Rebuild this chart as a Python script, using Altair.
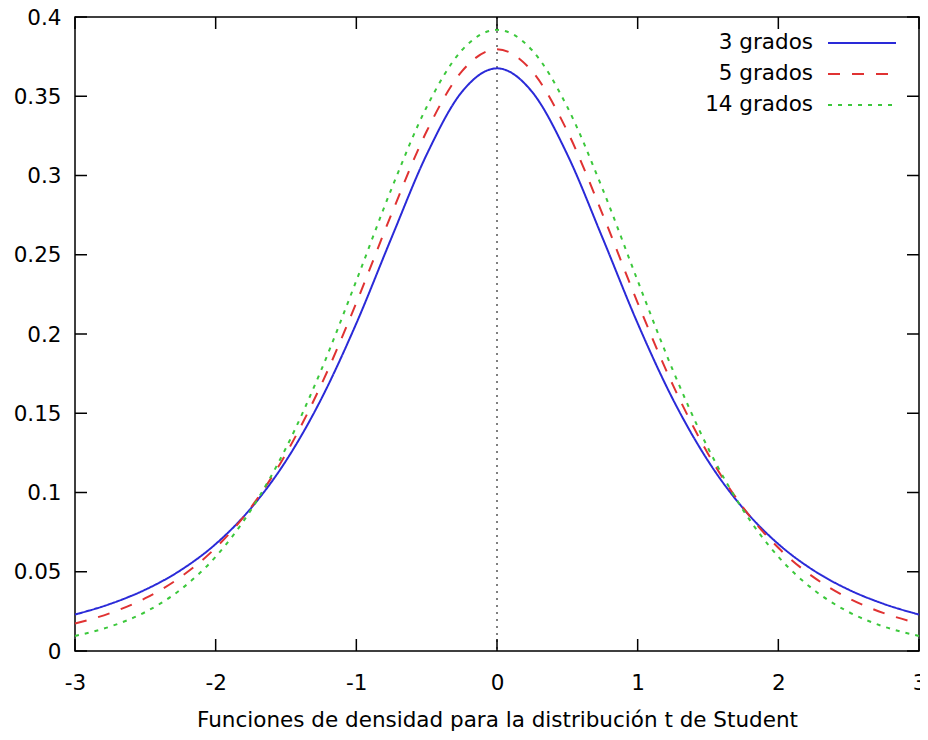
import altair as alt
import pandas as pd

# values
x_vals = [-3.0, -2.75, -2.5, -2.25, -2.0, -1.75, -1.5, -1.25, -1.0, -0.75, -0.5, -0.25, 0.0,
          0.25, 0.5, 0.75, 1.0, 1.25, 1.5, 1.75, 2.0, 2.25, 2.5, 2.75, 3.0]
g3 = [0.0230, 0.0297, 0.0387, 0.0509, 0.0675, 0.0900, 0.1200, 0.1589, 0.2067, 0.2607, 0.3132, 0.3527, 0.3676,
      0.3527, 0.3132, 0.2607, 0.2067, 0.1589, 0.1200, 0.0900, 0.0675, 0.0509, 0.0387, 0.0297, 0.0230]
g5 = [0.0173, 0.0239, 0.0333, 0.0466, 0.0651, 0.0905, 0.1245, 0.1679, 0.2197, 0.2757, 0.3279, 0.3657, 0.3796,
      0.3657, 0.3279, 0.2757, 0.2197, 0.1679, 0.1245, 0.0905, 0.0651, 0.0466, 0.0333, 0.0239, 0.0173]
g14 = [0.0095, 0.0154, 0.0246, 0.0387, 0.0595, 0.0889, 0.1281, 0.1772, 0.2336, 0.2916, 0.3432, 0.3790, 0.3919,
       0.3790, 0.3432, 0.2916, 0.2336, 0.1772, 0.1281, 0.0889, 0.0595, 0.0387, 0.0246, 0.0154, 0.0095]
series_names = ["3 grados", "5 grados", "14 grados"]
x_ticks = [-3, -2, -1, 0, 1, 2, 3]
y_ticks = [0, 0.05, 0.1, 0.15, 0.2, 0.25, 0.3, 0.35, 0.4]
x_title = "Funciones de densidad para la distribución t de Student"

colors = ["#2a2ad8", "#e03232", "#3cc83c"]
dashes = [[1, 0], [12, 12], [4, 6]]

W, H = 844, 634
FONT = "DejaVu Sans"
FS = 21.5
TICK = 12

rows = []
for name, ys in zip(series_names, [g3, g5, g14]):
    for xv, yv in zip(x_vals, ys):
        rows.append({"x": xv, "y": yv, "serie": name})
data = pd.DataFrame(rows)

xscale = alt.Scale(domain=[-3, 3], nice=False, zero=False)
yscale = alt.Scale(domain=[0, 0.4], nice=False)
xaxis = alt.Axis(values=x_ticks, labelExpr="'' + datum.value", title=x_title, grid=False, domain=False,
                 ticks=False, labelPadding=21, titlePadding=16, labelFlush=False)
yaxis = alt.Axis(values=y_ticks, format=".2~f", title=None, grid=False, domain=False,
                 ticks=False, labelPadding=14, labelOffset=1)

curves = alt.Chart(data).mark_line(strokeWidth=2, interpolate="monotone").encode(
    x=alt.X("x:Q", scale=xscale, axis=xaxis),
    y=alt.Y("y:Q", scale=yscale, axis=yaxis),
    color=alt.Color("serie:N", scale=alt.Scale(domain=series_names, range=colors), legend=None),
    strokeDash=alt.StrokeDash("serie:N", scale=alt.Scale(domain=series_names, range=dashes), legend=None),
)

zero = alt.Chart(pd.DataFrame({"x": [0]})).mark_rule(color="black", strokeWidth=1, strokeDash=[2, 5]).encode(
    x=alt.X("x:Q", scale=xscale, axis=xaxis)
)

xt = pd.DataFrame({"x": x_ticks})
yt = pd.DataFrame({"y": y_ticks})
tick_layers = [
    alt.Chart(xt).mark_rule(color="black", strokeWidth=1.5).encode(
        x=alt.X("x:Q", scale=xscale, axis=xaxis), y=alt.value(H), y2=alt.value(H - TICK)),
    alt.Chart(xt).mark_rule(color="black", strokeWidth=1.5).encode(
        x=alt.X("x:Q", scale=xscale, axis=xaxis), y=alt.value(0), y2=alt.value(TICK)),
    alt.Chart(yt).mark_rule(color="black", strokeWidth=1.5).encode(
        y=alt.Y("y:Q", scale=yscale, axis=yaxis), x=alt.value(0), x2=alt.value(TICK)),
    alt.Chart(yt).mark_rule(color="black", strokeWidth=1.5).encode(
        y=alt.Y("y:Q", scale=yscale, axis=yaxis), x=alt.value(W - TICK), x2=alt.value(W)),
]

legend_layers = []
for i, name in enumerate(series_names):
    ly = 26 + 31 * i
    one = pd.DataFrame({"label": [name]})
    legend_layers.append(
        alt.Chart(one).mark_text(align="right", baseline="middle", font=FONT, fontSize=FS, color="black").encode(
            text="label:N", x=alt.value(738), y=alt.value(ly)))
    legend_layers.append(
        alt.Chart(one).mark_rule(color=colors[i], strokeWidth=2, strokeDash=dashes[i]).encode(
            x=alt.value(753), x2=alt.value(821), y=alt.value(ly)))

chart = alt.layer(zero, curves, *tick_layers, *legend_layers).properties(
    width=W, height=H,
    padding={"left": 67, "top": 9, "right": 1, "bottom": 80},
    autosize=alt.AutoSizeParams(type="none"),
    background="white",
).configure_view(
    stroke="black", strokeWidth=1.5
).configure_axis(
    labelFont=FONT, labelFontSize=FS, labelColor="black",
    titleFont=FONT, titleFontSize=FS, titleFontWeight="normal", titleColor="black",
)

chart.save("out.html", embed_options={"renderer": "svg", "actions": False})
